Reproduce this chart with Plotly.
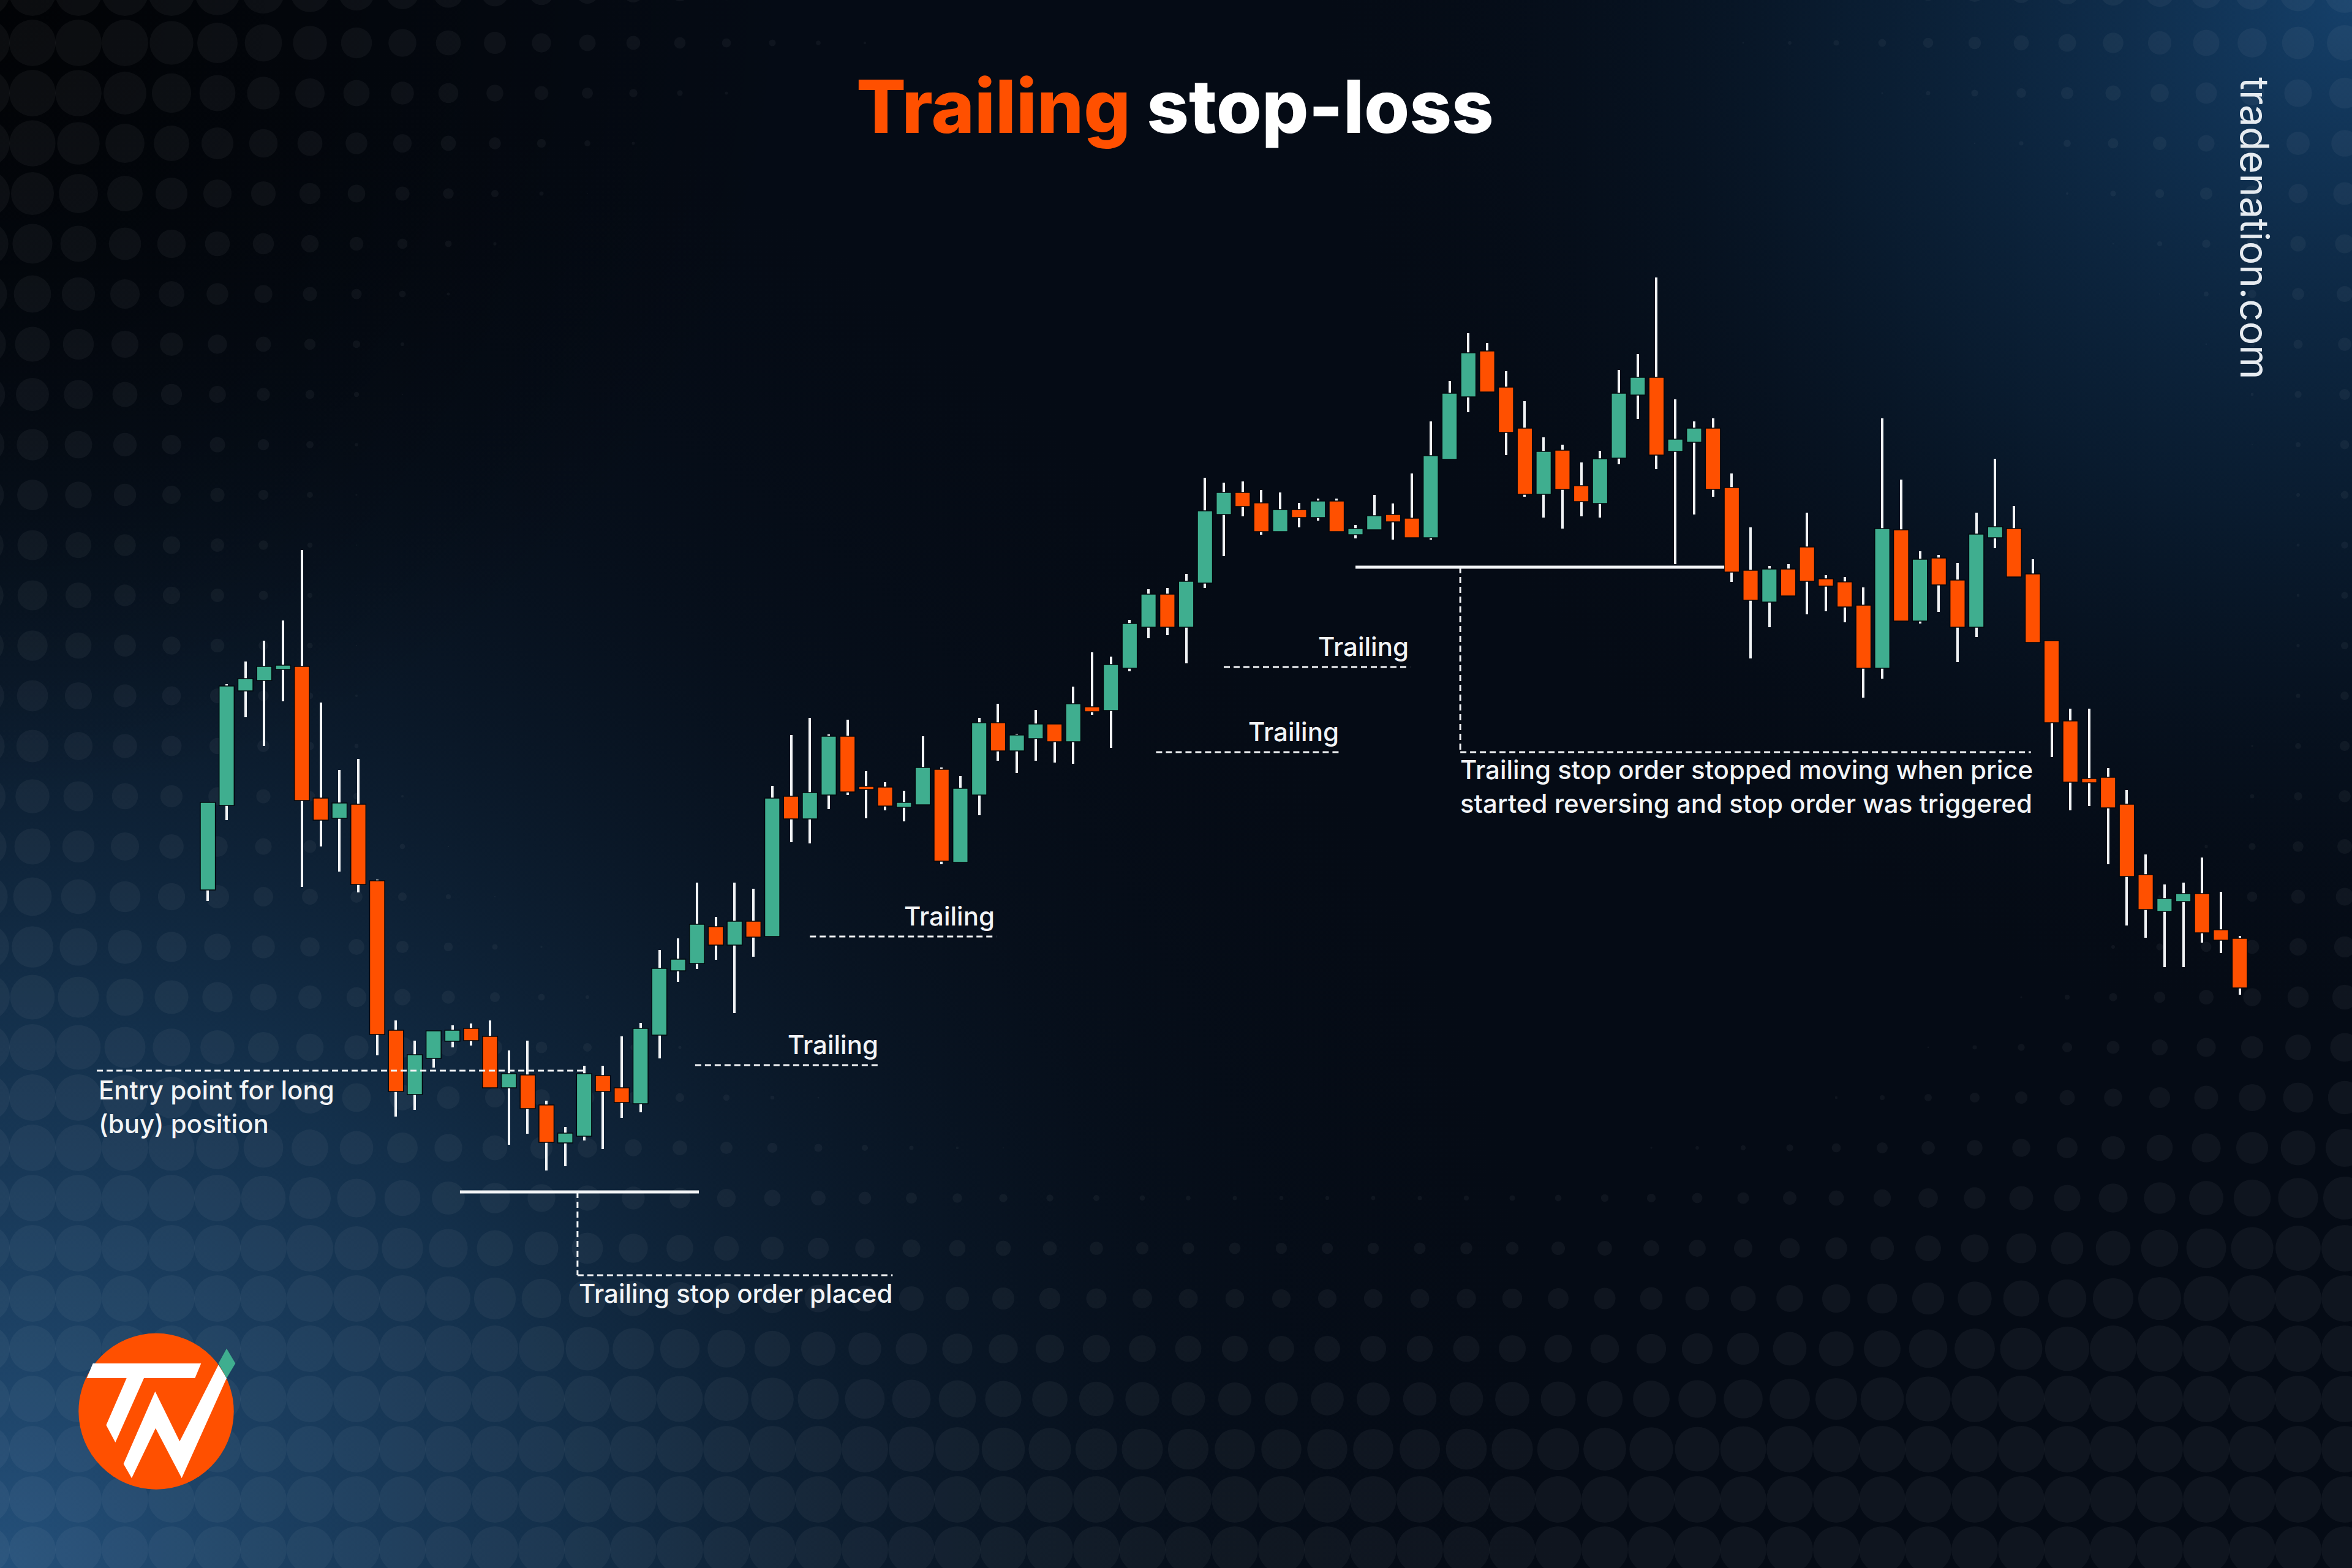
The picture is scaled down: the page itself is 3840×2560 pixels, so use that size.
import base64
import math
import plotly.graph_objects as go

W, H = 3840, 2560

# ---------------- candle data (price units) ----------------
opens = [110.7, 124.5, 143.2, 144.9, 146.7, 147.2, 125.7, 122.4, 124.7, 112.2,
         87.8, 77.3, 83.2, 86.0, 88.1, 86.8, 78.4, 80.5, 75.6, 69.4,
         70.5, 80.4, 78.4, 75.8, 87.0, 97.5, 98.7, 104.7, 101.7, 105.6,
         103.1, 126.0, 122.3, 126.2, 135.8, 127.5, 127.5, 124.2, 124.6, 130.4,
         115.2, 126.2, 138.0, 133.4, 135.4, 137.8, 134.9, 140.6, 140.0, 146.9,
         153.6, 159.0, 153.6, 160.8, 172.0, 175.6, 173.9, 169.2, 172.8, 171.5,
         174.2, 168.7, 169.5, 172.0, 171.4, 168.2, 181.0, 191.2, 198.7, 192.8,
         186.1, 175.3, 182.5, 176.7, 173.8, 181.2, 191.5, 194.4, 182.3, 183.8,
         186.1, 176.4, 162.9, 157.7, 163.1, 166.7, 161.5, 161.0, 157.2, 146.9,
         169.5, 154.6, 164.9, 161.3, 153.6, 168.2, 169.7, 162.3, 151.4, 138.3,
         128.9, 129.1, 124.7, 113.2, 107.2, 108.8, 110.1, 104.2, 102.8]
closes = [125.0, 144.0, 145.2, 147.2, 147.4, 125.3, 122.1, 124.9, 111.6, 87.1,
          77.8, 83.8, 87.7, 87.8, 86.1, 78.4, 80.7, 75.0, 69.5, 71.0,
          80.7, 77.8, 76.0, 88.1, 97.9, 99.4, 105.1, 101.7, 105.6, 103.0,
          125.7, 122.3, 126.6, 135.8, 126.7, 127.1, 124.4, 125.0, 130.7, 115.4,
          127.3, 138.0, 133.4, 136.0, 137.8, 134.9, 141.1, 139.8, 147.5, 154.2,
          159.0, 153.6, 161.1, 172.6, 175.6, 173.3, 169.2, 172.8, 171.5, 174.2,
          169.2, 169.7, 171.8, 170.8, 168.2, 181.6, 191.8, 198.4, 192.0, 185.4,
          175.3, 182.3, 176.1, 174.1, 181.1, 191.8, 194.4, 181.7, 184.3, 186.1,
          176.1, 162.6, 158.0, 163.1, 158.7, 161.1, 160.3, 156.9, 146.9, 169.7,
          154.6, 164.7, 160.5, 153.6, 168.8, 170.0, 161.8, 151.1, 138.0, 128.3,
          128.2, 124.1, 112.9, 107.5, 109.3, 110.1, 103.7, 102.5, 94.7]
highs = [125.0, 144.3, 148.0, 151.4, 154.7, 166.2, 141.3, 130.3, 132.1, 112.4,
         89.4, 86.1, 87.7, 88.6, 88.9, 89.4, 84.5, 86.1, 76.3, 72.0,
         82.0, 82.0, 86.8, 89.0, 100.9, 102.8, 111.9, 106.3, 111.9, 110.9,
         127.7, 136.0, 138.8, 136.1, 138.5, 130.1, 128.3, 126.9, 135.8, 130.7,
         129.3, 138.8, 141.1, 136.2, 140.1, 137.8, 143.9, 149.5, 148.8, 154.8,
         159.8, 160.0, 162.3, 178.0, 177.2, 177.4, 176.0, 175.6, 173.9, 174.6,
         174.6, 170.3, 175.2, 173.8, 178.7, 187.2, 193.8, 201.6, 200.0, 195.4,
         190.5, 184.6, 183.4, 180.5, 182.4, 195.6, 198.2, 210.7, 190.8, 187.2,
         187.7, 178.7, 169.9, 163.6, 163.9, 172.3, 162.1, 161.8, 160.1, 187.7,
         177.7, 166.0, 165.4, 164.1, 172.3, 181.1, 173.4, 164.7, 151.4, 140.3,
         140.3, 130.6, 127.0, 116.5, 111.6, 111.9, 116.0, 110.4, 103.2]
lows = [108.9, 122.1, 138.9, 134.2, 141.5, 111.2, 117.8, 113.7, 110.3, 83.7,
        73.7, 74.8, 81.7, 85.0, 85.3, 78.4, 69.1, 70.9, 64.9, 65.6,
        69.8, 68.4, 73.5, 74.4, 83.2, 95.7, 97.8, 99.3, 90.6, 99.8,
        103.1, 118.5, 118.3, 123.9, 126.2, 122.4, 123.7, 121.9, 124.6, 114.9,
        115.2, 122.9, 131.8, 129.8, 131.8, 131.5, 131.3, 139.3, 133.9, 146.4,
        151.8, 152.3, 147.7, 160.0, 165.2, 171.7, 168.7, 169.2, 169.9, 171.0,
        169.2, 168.1, 169.5, 167.9, 168.2, 167.9, 181.0, 188.7, 192.0, 181.7,
        174.9, 171.5, 169.7, 171.7, 171.5, 180.2, 187.6, 179.4, 163.9, 172.0,
        174.9, 161.0, 148.5, 153.6, 158.7, 155.7, 156.2, 154.4, 142.1, 145.2,
        154.6, 154.2, 156.1, 147.9, 152.0, 166.5, 161.8, 151.1, 132.4, 123.7,
        124.4, 114.9, 104.9, 102.9, 98.1, 98.1, 102.1, 100.4, 93.6]
candle_idx = list(range(len(opens)))

# ---------------- annotation levels (price units / candle index) ----------------
entry_level = 81.2
entry_x = [-5.9, 20.0]
stop_level = 61.4
stop_x = [13.4, 26.1]
placed_level = 47.8
placed_x = [19.65, 36.4]
trailing_levels = [82.1, 103.1, 133.2, 147.1]
trailing_x0 = [25.9, 32.0, 50.4, 54.0]
trailing_x1 = [35.7, 41.9, 60.2, 63.9]
final_stop_level = 163.4
final_stop_x = [61.0, 80.6]
triggered_level = 133.2
triggered_x = [66.57, 96.9]

GREEN = "#3FAE8F"
ORANGE = "#FF5000"
WHITE = "#F2F4F6"

# ---------------- background (decorative svg image) ----------------
dots = []
gx, gy = 75.5, 82.0
cx0, cy0 = 2150.0, 950.0
for j in range(-1, 33):
    for i in range(-1, 52):
        x = 53 + i * gx
        y = 70 + j * gy
        d = math.hypot(x - cx0, (y - cy0) / 0.62)
        f = (d - 1550) / 850.0
        if f <= 0.02:
            continue
        r = 38 * min(f, 1.0)
        dots.append(f"<circle cx='{x:.0f}' cy='{y:.0f}' r='{r:.1f}'/>")
dots_svg = "".join(dots)

svg = f"""<svg xmlns='http://www.w3.org/2000/svg' width='{W}' height='{H}' viewBox='0 0 {W} {H}'>
<defs>
<radialGradient id='bl' cx='0' cy='{H}' r='2600' gradientUnits='userSpaceOnUse'>
<stop offset='0' stop-color='#24507a' stop-opacity='1'/>
<stop offset='0.35' stop-color='#163654' stop-opacity='0.85'/>
<stop offset='0.75' stop-color='#0a1828' stop-opacity='0.3'/>
<stop offset='1' stop-color='#050b15' stop-opacity='0'/>
</radialGradient>
<radialGradient id='tr' cx='{W}' cy='0' r='1700' gradientUnits='userSpaceOnUse'>
<stop offset='0' stop-color='#15406a' stop-opacity='1'/>
<stop offset='0.5' stop-color='#0c2640' stop-opacity='0.6'/>
<stop offset='1' stop-color='#050b15' stop-opacity='0'/>
</radialGradient>
<radialGradient id='tl' cx='0' cy='0' r='1300' gradientUnits='userSpaceOnUse'>
<stop offset='0' stop-color='#000000' stop-opacity='0.75'/>
<stop offset='1' stop-color='#000000' stop-opacity='0'/>
</radialGradient>
</defs>
<rect width='{W}' height='{H}' fill='#050b15'/>
<rect width='{W}' height='{H}' fill='url(#bl)'/>
<rect width='{W}' height='{H}' fill='url(#tr)'/>
<rect width='{W}' height='{H}' fill='url(#tl)'/>
<g fill='#ffffff' fill-opacity='0.045'>{dots_svg}</g>
</svg>"""
bg_src = "data:image/svg+xml;base64," + base64.b64encode(svg.encode()).decode()

# ---------------- candles ----------------
body_base = [min(o, c) for o, c in zip(opens, closes)]
body_h = [max(abs(c - o), 0.5) for o, c in zip(opens, closes)]
body_col = [GREEN if c > o else ORANGE for o, c in zip(opens, closes)]
wick_h = [h - l for h, l in zip(highs, lows)]

fig = go.Figure()
fig.add_trace(go.Bar(x=candle_idx, y=wick_h, base=lows, width=0.13,
                     marker=dict(color=WHITE, line=dict(width=0)),
                     hoverinfo="skip", showlegend=False))
fig.add_trace(go.Bar(x=candle_idx, y=body_h, base=body_base, width=0.8,
                     marker=dict(color=body_col, line=dict(color="#03070d", width=1.5)),
                     hoverinfo="skip", showlegend=False))

shapes = []
DASH = "10px,6px"


def hline(x0, x1, y, dash=True, width=3):
    shapes.append(dict(type="line", xref="x", yref="y", x0=x0, x1=x1, y0=y, y1=y,
                       line=dict(color=WHITE, width=width, dash=DASH if dash else "solid"),
                       layer="above"))


def vline(x, y0, y1, width=3):
    shapes.append(dict(type="line", xref="x", yref="y", x0=x, x1=x, y0=y0, y1=y1,
                       line=dict(color=WHITE, width=width, dash=DASH), layer="above"))


hline(entry_x[0], entry_x[1], entry_level)
hline(stop_x[0], stop_x[1], stop_level, dash=False, width=5)
vline(placed_x[0], stop_level, placed_level)
hline(placed_x[0], placed_x[1], placed_level)
for lv, a, b in zip(trailing_levels, trailing_x0, trailing_x1):
    hline(a, b, lv)
hline(final_stop_x[0], final_stop_x[1], final_stop_level, dash=False, width=5)
vline(triggered_x[0], final_stop_level, triggered_level)
hline(triggered_x[0], triggered_x[1], triggered_level)

# ---------------- logo ----------------
def P(x, y):
    return f"{x / W:.5f},{1 - y / H:.5f}"


def zp(zx, zy):
    return (100 + zx / 3, 2150 + zy / 3)


def poly(pts):
    return "M " + " L ".join(P(*zp(*p)) for p in pts) + " Z"


shapes.append(dict(type="circle", xref="paper", yref="paper",
                   x0=128.3 / W, x1=381.7 / W, y0=1 - 2431.7 / H, y1=1 - 2176.7 / H,
                   fillcolor=ORANGE, line=dict(width=0), layer="above"))
shapes.append(dict(type="path", xref="paper", yref="paper",
                   path=poly([(125, 300), (155, 228), (685, 228), (655, 300), (405, 300),
                              (265, 615), (220, 530), (320, 300)]),
                   fillcolor="white", line=dict(width=0), layer="above"))
shapes.append(dict(type="path", xref="paper", yref="paper",
                   path=poly([(305, 720), (460, 365), (580, 610), (770, 235), (810, 300),
                              (590, 790), (462, 545), (345, 790)]),
                   fillcolor="white", line=dict(width=0), layer="above"))
shapes.append(dict(type="path", xref="paper", yref="paper",
                   path=poly([(810, 155), (853, 228), (810, 300), (770, 228)]),
                   fillcolor=GREEN, line=dict(width=0), layer="above"))

# ---------------- annotations ----------------
TF = dict(family="Inter, Roboto, sans-serif", size=42, color=WHITE, weight=500)
ann = []
ann.append(dict(text="Entry point for long<br>(buy) position", x=-5.87, y=75.3,
                xref="x", yref="y", xanchor="left", yanchor="middle", align="left",
                showarrow=False, font=TF))
ann.append(dict(text="Trailing stop order placed", x=19.65, y=44.9,
                xref="x", yref="y", xanchor="left", yanchor="middle", align="left",
                showarrow=False, font=TF))
for lv, b in zip(trailing_levels, trailing_x1):
    ann.append(dict(text="Trailing", x=b, y=lv + 0.6, xref="x", yref="y",
                    xanchor="right", yanchor="bottom", showarrow=False, font=TF))
ann.append(dict(text="Trailing stop order stopped moving when price<br>started reversing and stop order was triggered",
                x=66.5, y=127.6, xref="x", yref="y", xanchor="left", yanchor="middle",
                align="left", showarrow=False, font=TF))
ann.append(dict(text=f"<span style='color:{ORANGE}'>Trailing</span> stop-loss",
                x=1918 / W, y=1 - 173 / H, xref="paper", yref="paper",
                xanchor="center", yanchor="middle", showarrow=False,
                font=dict(family="Inter, Roboto, sans-serif", size=120, color="white", weight=800)))
ann.append(dict(text="tradenation.com", x=3681 / W, y=1 - 372 / H, xref="paper", yref="paper",
                xanchor="center", yanchor="middle", textangle=90, showarrow=False,
                font=dict(family="Inter, Roboto, sans-serif", size=64, color="#E6EBF0", weight=400)))

# x axis: candle 0 sits at 339.3 px, candle 108 at 3656.7 px
px_per = (3656.7 - 339.3) / 108
x_lo = -339.3 / px_per
x_hi = x_lo + W / px_per

fig.update_layout(
    width=W, height=H,
    margin=dict(l=0, r=0, t=0, b=0, pad=0),
    paper_bgcolor="#050b15", plot_bgcolor="rgba(0,0,0,0)",
    barmode="overlay", bargap=0,
    xaxis=dict(range=[x_lo, x_hi], visible=False, fixedrange=True, domain=[0, 1]),
    yaxis=dict(range=[0, 256], visible=False, fixedrange=True, domain=[0, 1]),
    shapes=shapes, annotations=ann,
    images=[dict(source=bg_src, xref="paper", yref="paper", x=0, y=1, sizex=1, sizey=1,
                 xanchor="left", yanchor="top", sizing="stretch", layer="below")],
    showlegend=False,
)

fig.write_html("out.html", config=dict(displayModeBar=False, staticPlot=True))
